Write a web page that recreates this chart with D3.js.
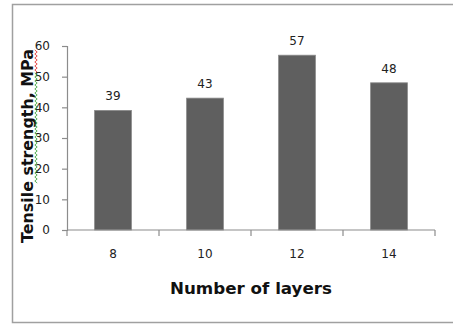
<!DOCTYPE html>
<html>
<head>
<meta charset="utf-8">
<script src="https://cdn.jsdelivr.net/npm/d3@7/dist/d3.min.js"></script>
<style>
  html, body { margin: 0; padding: 0; background: #fff; }
  svg { display: block; }
  text { font-family: "DejaVu Sans", Verdana, sans-serif; }
</style>
</head>
<body>
<svg id="chart" width="453" height="325"></svg>
<script>
// Tensile strength by number of layers
const categories = ["8", "10", "12", "14"];
const strength = [39, 43, 57, 48];
const yTicks = [0, 10, 20, 30, 40, 50, 60];
const yTitle = "Tensile strength, MPa";
const xTitle = "Number of layers";

const svg = d3.select("#chart");

// outer frame
svg.append("rect")
  .attr("x", 12.5).attr("y", 4.5)
  .attr("width", 460).attr("height", 318)
  .attr("fill", "#fff")
  .attr("stroke", "#a0a0a0").attr("stroke-width", 1.5);

const plot = { left: 67, right: 435, top: 46, bottom: 230 };

const x = d3.scaleBand()
  .domain(categories)
  .range([plot.left, plot.right])
  .paddingInner(0.6).paddingOuter(0.3);

const y = d3.scaleLinear()
  .domain([0, 60])
  .range([plot.bottom, plot.top]);

// bars
svg.append("g").selectAll("rect")
  .data(strength)
  .join("rect")
  .attr("x", (d, i) => x(categories[i]))
  .attr("y", d => y(d))
  .attr("width", x.bandwidth())
  .attr("height", d => y(0) - y(d))
  .attr("fill", "#5f5f5f")
  .attr("stroke", "#8a8a8a").attr("stroke-width", 0.8);

// value labels
svg.append("g").selectAll("text")
  .data(strength)
  .join("text")
  .attr("x", (d, i) => x(categories[i]) + x.bandwidth() / 2)
  .attr("y", d => y(d) - 10)
  .attr("text-anchor", "middle")
  .attr("font-size", 12)
  .attr("fill", "#222")
  .text(d => d);

// y axis
const yAxis = svg.append("g")
  .attr("transform", `translate(${plot.left},0)`)
  .call(d3.axisLeft(y).tickValues(yTicks).tickSize(5).tickPadding(12));
yAxis.select(".domain").attr("stroke", "#8c8c8c").attr("stroke-width", 1.2);
yAxis.selectAll(".tick line").attr("stroke", "#8c8c8c").attr("stroke-width", 1.2);
yAxis.selectAll(".tick text")
  .attr("font-size", 12).attr("fill", "#222")
  .style("font-family", "'DejaVu Sans', Verdana, sans-serif");

// x axis with boundary ticks between categories
const xAxisG = svg.append("g")
  .attr("transform", `translate(0,${plot.bottom})`);
xAxisG.append("line")
  .attr("x1", plot.left).attr("x2", plot.right)
  .attr("stroke", "#8c8c8c").attr("stroke-width", 1.2);
const step = (plot.right - plot.left) / categories.length;
const bounds = d3.range(categories.length + 1).map(i => plot.left + i * step);
xAxisG.selectAll("line.tick")
  .data(bounds)
  .join("line")
  .attr("class", "tick")
  .attr("x1", d => d).attr("x2", d => d)
  .attr("y1", 0).attr("y2", 6)
  .attr("stroke", "#8c8c8c").attr("stroke-width", 1.2);
xAxisG.selectAll("text")
  .data(categories)
  .join("text")
  .attr("x", d => x(d) + x.bandwidth() / 2)
  .attr("y", 28)
  .attr("text-anchor", "middle")
  .attr("font-size", 12)
  .attr("fill", "#222")
  .text(d => d);

// axis titles
svg.append("text")
  .attr("x", 251).attr("y", 294)
  .attr("text-anchor", "middle")
  .attr("font-size", 15.5).attr("font-weight", "bold")
  .attr("fill", "#111")
  .attr("textLength", 162).attr("lengthAdjust", "spacingAndGlyphs")
  .text(xTitle);

svg.append("text")
  .attr("transform", "translate(33,146) rotate(-90)")
  .attr("text-anchor", "middle")
  .attr("font-size", 15.5).attr("font-weight", "bold")
  .attr("fill", "#111")
  .attr("textLength", 194).attr("lengthAdjust", "spacingAndGlyphs")
  .text(yTitle);

// proofing squiggles beside the rotated title
function squiggle(y0, y1, xc, color) {
  const pts = [];
  let k = 0;
  for (let yy = y0; yy <= y1; yy += 2, k++) pts.push([xc + (k % 2 ? 1.2 : -1.2), yy]);
  svg.append("path")
    .attr("d", d3.line()(pts))
    .attr("fill", "none").attr("stroke", color).attr("stroke-width", 0.8);
}
squiggle(50, 73, 36, "#e02020");
squiggle(73, 183, 36, "#30a030");
</script>
</body>
</html>
